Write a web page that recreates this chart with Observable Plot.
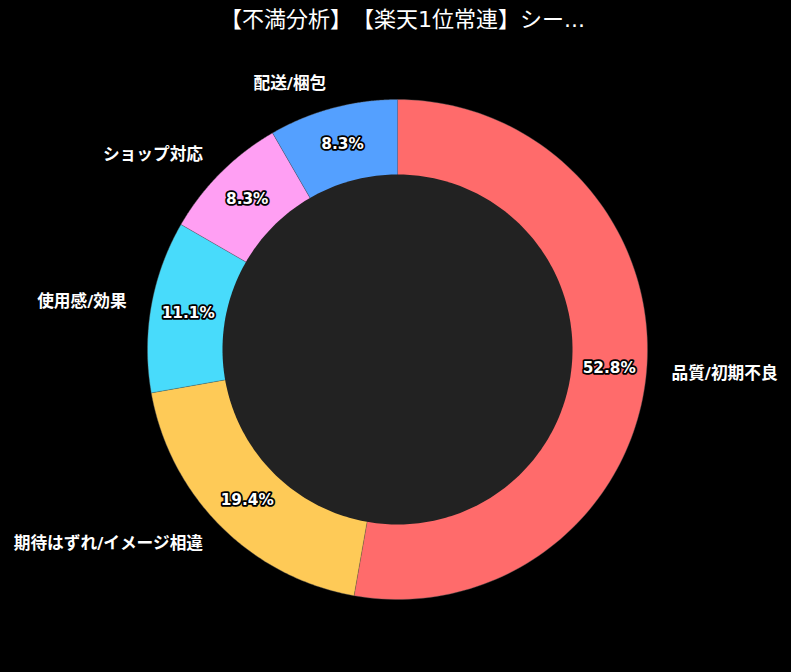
<!DOCTYPE html>
<html><head><meta charset="utf-8">
<script src="https://cdn.jsdelivr.net/npm/d3@7"></script>
<script src="https://cdn.jsdelivr.net/npm/@observablehq/plot@0.6"></script>
<style>
html,body{margin:0;padding:0;background:#000;}
#title{height:40px;line-height:40px;text-align:center;color:#fff;font-family:"DejaVu Sans","Noto Sans CJK JP",sans-serif;font-size:22px;width:791px;padding-left:14px;box-sizing:border-box;font-feature-settings:"chws" 0,"halt" 0;text-spacing-trim:space-all;}
svg text{font-feature-settings:"chws" 0;text-spacing-trim:space-all;}
</style></head>
<body>
<div id="title"></div>
<div id="chart"></div>
<script>
const titleText = "【不満分析】【楽天1位常連】シー...";
const categories = ["品質/初期不良","期待はずれ/イメージ相違","使用感/効果","ショップ対応","配送/梱包"];
const counts = [19, 7, 4, 3, 3];
const colors = ["#FF6B6B","#FECA57","#48DBFB","#FF9FF3","#54A0FF"];

document.getElementById("title").textContent = titleText;

const total = d3.sum(counts);
let acc = 0;
const slices = categories.map((c, i) => {
  const a0 = acc / total * 2 * Math.PI;
  acc += counts[i];
  const a1 = acc / total * 2 * Math.PI;
  return {cat: c, a0, a1, mid: (a0 + a1) / 2, pct: (counts[i] / total * 100).toFixed(1) + "%"};
});

const pts = [];
for (const s of slices) {
  pts.push({cat: s.cat, x: 0, y: 0});
  const n = 120;
  for (let k = 0; k <= n; k++) {
    const a = s.a0 + (s.a1 - s.a0) * k / n;
    pts.push({cat: s.cat, x: Math.sin(a), y: Math.cos(a)});
  }
}
const inner = d3.range(0, 361).map(k => ({x: 0.7 * Math.sin(k * Math.PI / 180), y: 0.7 * Math.cos(k * Math.PI / 180)}));

const labels = slices.map(s => ({text: s.cat, x: 1.1 * Math.sin(s.mid), y: 1.1 * Math.cos(s.mid)}));
const pcts = slices.map(s => ({text: s.pct, x: 0.85 * Math.sin(s.mid), y: 0.85 * Math.cos(s.mid)}));

const W = 791, H = 632, R = 250, cx = 397, cy = 309;
const font = '"DejaVu Sans","Noto Sans CJK JP",sans-serif';

const chart = Plot.plot({
  width: W, height: H,
  marginLeft: 0, marginRight: 0, marginTop: 0, marginBottom: 0,
  x: {domain: [-cx / R, (W - cx) / R], axis: null},
  y: {domain: [-(H - cy) / R, cy / R], axis: null},
  color: {domain: categories, range: colors},
  style: {background: "#000", color: "#fff", fontFamily: font},
  marks: [
    Plot.line(pts, {x: "x", y: "y", z: "cat", fill: "cat", stroke: "#555", strokeWidth: 0.4, curve: "linear"}),
    Plot.line(inner, {x: "x", y: "y", fill: "#222", stroke: "none", curve: "linear"}),
    Plot.text(labels.filter(d => d.x >= 0), {x: "x", y: "y", text: "text", textAnchor: "start", fill: "#fff", fontWeight: "bold", fontSize: 16.7}),
    Plot.text(labels.filter(d => d.x < 0), {x: "x", y: "y", text: "text", textAnchor: "end", fill: "#fff", fontWeight: "bold", fontSize: 16.7}),
    Plot.text(pcts, {x: "x", y: "y", text: "text", fill: "#fff", stroke: "#000", strokeWidth: 3.5, strokeLinejoin: "round", paintOrder: "stroke", fontWeight: "bold", fontSize: 15.3})
  ]
});
document.getElementById("chart").appendChild(chart);
</script>
</body></html>
